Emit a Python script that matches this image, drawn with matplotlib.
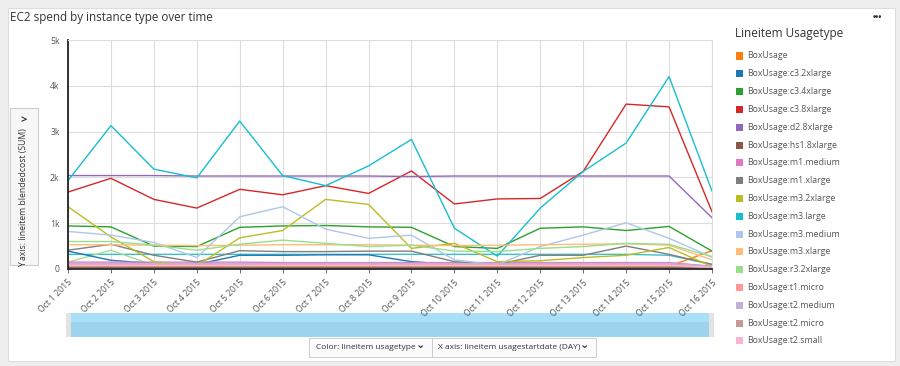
import matplotlib.pyplot as plt
from matplotlib.patches import Rectangle
from matplotlib.ticker import FuncFormatter

plt.rcParams['font.family'] = ['Open Sans', 'DejaVu Sans']

days = ["Oct 1 2015", "Oct 2 2015", "Oct 3 2015", "Oct 4 2015", "Oct 5 2015",
        "Oct 6 2015", "Oct 7 2015", "Oct 8 2015", "Oct 9 2015", "Oct 10 2015",
        "Oct 11 2015", "Oct 12 2015", "Oct 13 2015", "Oct 14 2015", "Oct 15 2015",
        "Oct 16 2015"]

# blended cost, in thousands
box_usage   = [0.05, 0.05, 0.04, 0.04, 0.05, 0.05, 0.05, 0.05, 0.05, 0.04, 0.04, 0.05, 0.05, 0.05, 0.06, 0.40]
c3_2xlarge  = [0.39, 0.19, 0.12, 0.10, 0.30, 0.30, 0.31, 0.31, 0.16, 0.10, 0.08, 0.08, 0.10, 0.12, 0.12, 0.05]
c3_4xlarge  = [0.94, 0.92, 0.50, 0.49, 0.91, 0.94, 0.95, 0.92, 0.91, 0.49, 0.45, 0.89, 0.92, 0.84, 0.93, 0.39]
c3_8xlarge  = [1.68, 1.98, 1.52, 1.33, 1.74, 1.62, 1.82, 1.65, 2.14, 1.42, 1.53, 1.54, 2.13, 3.60, 3.54, 1.25]
d2_8xlarge  = [2.04, 2.04, 2.04, 2.03, 2.03, 2.03, 2.03, 2.03, 2.02, 2.03, 2.03, 2.03, 2.03, 2.03, 2.03, 1.12]
hs1_8xlarge = [0.04, 0.04, 0.04, 0.04, 0.04, 0.04, 0.04, 0.04, 0.04, 0.04, 0.04, 0.04, 0.04, 0.04, 0.04, 0.03]
m1_medium   = [0.15, 0.15, 0.15, 0.15, 0.15, 0.14, 0.14, 0.14, 0.14, 0.14, 0.14, 0.14, 0.14, 0.14, 0.14, 0.06]
m1_xlarge   = [0.41, 0.54, 0.30, 0.15, 0.40, 0.38, 0.38, 0.39, 0.39, 0.16, 0.10, 0.30, 0.30, 0.50, 0.32, 0.10]
m3_2xlarge  = [1.36, 0.70, 0.16, 0.07, 0.68, 0.84, 1.52, 1.41, 0.45, 0.56, 0.16, 0.18, 0.25, 0.30, 0.47, 0.05]
m3_large    = [1.93, 3.13, 2.18, 1.99, 3.23, 2.04, 1.82, 2.25, 2.83, 0.89, 0.28, 1.33, 2.13, 2.75, 4.20, 1.70]
m3_medium   = [0.82, 0.74, 0.58, 0.25, 1.14, 1.36, 0.87, 0.67, 0.74, 0.20, 0.09, 0.49, 0.74, 1.01, 0.67, 0.26]
m3_xlarge   = [0.53, 0.53, 0.52, 0.51, 0.52, 0.53, 0.53, 0.53, 0.52, 0.51, 0.52, 0.53, 0.54, 0.55, 0.52, 0.20]
r3_2xlarge  = [0.60, 0.60, 0.52, 0.41, 0.54, 0.63, 0.56, 0.49, 0.52, 0.39, 0.38, 0.45, 0.49, 0.56, 0.54, 0.27]
t1_micro    = [0.10, 0.10, 0.10, 0.10, 0.10, 0.10, 0.10, 0.10, 0.10, 0.10, 0.10, 0.10, 0.10, 0.10, 0.10, 0.05]
t2_medium   = [0.12, 0.12, 0.12, 0.12, 0.12, 0.12, 0.12, 0.12, 0.12, 0.12, 0.12, 0.12, 0.12, 0.12, 0.12, 0.06]
t2_micro    = [0.06, 0.06, 0.06, 0.06, 0.06, 0.06, 0.06, 0.06, 0.06, 0.06, 0.06, 0.06, 0.06, 0.06, 0.06, 0.03]
t2_small    = [0.08, 0.08, 0.08, 0.08, 0.08, 0.08, 0.08, 0.08, 0.08, 0.08, 0.08, 0.08, 0.08, 0.08, 0.08, 0.04]
# two more lines visible in the plot but not listed in the legend
unlisted_a  = [0.32, 0.32, 0.32, 0.32, 0.32, 0.32, 0.32, 0.32, 0.32, 0.32, 0.32, 0.32, 0.32, 0.32, 0.30, 0.10]
unlisted_b  = [0.15, 0.41, 0.08, 0.08, 0.10, 0.10, 0.10, 0.10, 0.10, 0.10, 0.09, 0.10, 0.10, 0.10, 0.10, 0.05]

names = ["BoxUsage", "BoxUsage:c3.2xlarge", "BoxUsage:c3.4xlarge", "BoxUsage:c3.8xlarge",
         "BoxUsage:d2.8xlarge", "BoxUsage:hs1.8xlarge", "BoxUsage:m1.medium",
         "BoxUsage:m1.xlarge", "BoxUsage:m3.2xlarge", "BoxUsage:m3.large",
         "BoxUsage:m3.medium", "BoxUsage:m3.xlarge", "BoxUsage:r3.2xlarge",
         "BoxUsage:t1.micro", "BoxUsage:t2.medium", "BoxUsage:t2.micro", "BoxUsage:t2.small"]
series = [box_usage, c3_2xlarge, c3_4xlarge, c3_8xlarge, d2_8xlarge, hs1_8xlarge, m1_medium,
          m1_xlarge, m3_2xlarge, m3_large, m3_medium, m3_xlarge, r3_2xlarge, t1_micro,
          t2_medium, t2_micro, t2_small]
colors = ["#ff7f0e", "#1f77b4", "#2ca02c", "#d62728", "#9467bd", "#8c564b", "#e377c2",
          "#7f7f7f", "#bcbd22", "#17becf", "#aec7e8", "#ffbb78", "#98df8a", "#ff9896",
          "#c5b0d5", "#c49c94", "#f7b6d2"]

W, H = 900, 366
fig = plt.figure(figsize=(9, 3.66), dpi=100)
fig.patch.set_facecolor("#eeeeee")


def px(x, y):
    return x / W, 1 - y / H


def box(x0, y0, x1, y1, **kw):
    fig.patches.append(Rectangle(px(x0, y1), (x1 - x0) / W, (y1 - y0) / H,
                                 transform=fig.transFigure, **kw))


# white card
box(8, 8, 895, 361, facecolor="white", edgecolor="#dddddd", lw=0.8, zorder=0)

ax = fig.add_axes([68 / W, 1 - 269 / H, 644 / W, 229 / H])
ax.set_zorder(5)
x = list(range(len(days)))
ax.plot(x, unlisted_a, color="#3bbfc9", lw=1.0)
ax.plot(x, unlisted_b, color="#a3dc95", lw=1.0)
for vals, c in zip(series, colors):
    ax.plot(x, vals, color=c, lw=1.0)

ax.set_xlim(0, len(days) - 1)
ax.set_ylim(0, 5)
ax.set_yticks([0, 1, 2, 3, 4, 5])
ax.yaxis.set_major_formatter(FuncFormatter(lambda v, p: "0" if v == 0 else f"{int(v)}k"))
ax.set_xticks(x)
ax.set_xticklabels(days, rotation=45, ha="right", rotation_mode="anchor")
ax.tick_params(axis="both", labelsize=6.2, colors="#555555", length=3, width=0.6)
ax.tick_params(axis="y", length=0, pad=6)
ax.grid(True, color="#dddddd", lw=0.8)
ax.set_axisbelow(True)
for s in ["top", "right"]:
    ax.spines[s].set_color("#dddddd")
for s in ["left", "bottom"]:
    ax.spines[s].set_color("#222222")
    ax.spines[s].set_linewidth(1.3)

# title and menu dots
fig.text(*px(10, 18), "EC2 spend by instance type over time", fontsize=8.4, color="#333333",
         va="center", ha="left")
fig.text(*px(877, 17), "•••", fontsize=6, color="#333333", va="center", ha="center",
         fontweight="bold")

# y axis label box
box(10, 108, 38, 265, facecolor="#f7f7f7", edgecolor="#cccccc", lw=0.8)
fig.text(*px(24, 198), "Y axis: lineitem blendedcost (SUM)", fontsize=6.2, color="#333333",
         rotation=90, va="center", ha="center")
fig.text(*px(24, 121), ">", fontsize=8, color="#333333", va="center", ha="center",
         fontweight="bold")

# range slider
box(68, 313, 712, 337, facecolor="#a9dff7", edgecolor="none")
box(70, 322, 710, 337, facecolor="#9dd3ec", edgecolor="none")
box(66, 313, 71, 337, facecolor="#e3e3e3", edgecolor="none")
box(709, 313, 714, 337, facecolor="#e3e3e3", edgecolor="none")

# field buttons
box(309, 338, 596, 357, facecolor="#fbfbfb", edgecolor="#cccccc", lw=0.7)
fig.lines.append(plt.Line2D([432 / W, 432 / W], [1 - 357 / H, 1 - 338 / H],
                            transform=fig.transFigure, color="#cccccc", lw=0.7))
fig.text(*px(316, 347.5), "Color: lineitem usagetype", fontsize=6, color="#333333",
         va="center", ha="left")
fig.text(*px(421, 346), "⌄", fontsize=8, color="#333333", va="center", ha="center",
         fontweight="bold")
fig.text(*px(438, 347.5), "X axis: lineitem usagestartdate (DAY)", fontsize=6, color="#333333",
         va="center", ha="left")
fig.text(*px(585, 346), "⌄", fontsize=8, color="#333333", va="center", ha="center",
         fontweight="bold")

# legend
fig.text(*px(735, 33), "Lineitem Usagetype", fontsize=8.5, color="#333333", va="center",
         ha="left")
for i, (n, c) in enumerate(zip(names, colors)):
    yy = 56 + i * 17.8
    box(736, yy - 3.5, 743, yy + 3.5, facecolor=c, edgecolor="none")
    fig.text(*px(747, yy), n, fontsize=6.3, color="#555555", va="center", ha="left")

fig.savefig("out.png", dpi=100, facecolor=fig.get_facecolor())
